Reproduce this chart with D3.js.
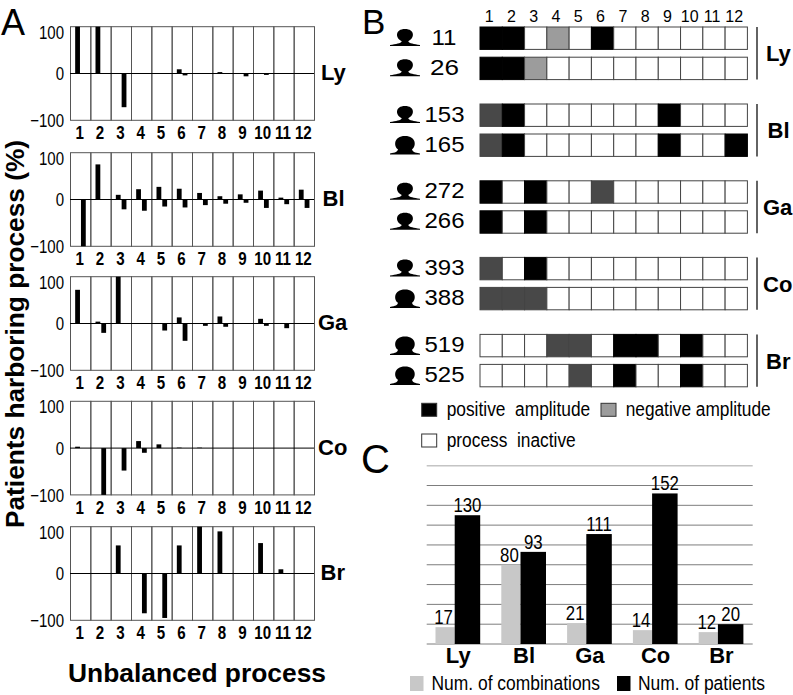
<!DOCTYPE html>
<html><head><meta charset="utf-8">
<script src="https://cdn.jsdelivr.net/npm/d3@7"></script>
<style>
html,body{margin:0;padding:0;background:#fff}
svg{display:block}
text{font-family:"Liberation Sans",Arial,sans-serif;fill:#000}
</style></head><body><div id="c"></div>
<script>
const processes=[1,2,3,4,5,6,7,8,9,10,11,12];
const cancers=["Ly","Bl","Ga","Co","Br"];
const posLy=[100,100,0,0,1,9,0,3,0,1,0,0];
const negLy=[0,0,-72,0,-1,-4,0,-1,-6,-3,0,0];
const posBl=[0,75,10,22,27,23,14,7,11,19,4,21];
const negBl=[-100,0,-21,-24,-15,-17,-12,-9,-7,-18,-10,-18];
const posGa=[72,4,100,0,0,13,0,15,0,10,0,0];
const negGa=[0,-20,0,0,-15,-37,-5,-7,0,-5,-10,0];
const posCo=[3,0,0,15,8,1,1,0,0,0,0,0];
const negCo=[0,-100,-48,-10,0,0,0,0,0,0,0,0];
const posBr=[0,0,60,0,0,60,100,90,0,65,9,0];
const negBr=[0,0,0,-85,-95,0,0,0,0,0,0,0];
const yTicks=[100,0,-100];
const patients=["11","26","153","165","272","266","393","388","519","525"];
// k=black (positive), m=mid grey (negative), d=dark grey, w=inactive
const stateRows=["kkwmwkwwwwww","kkmwwwwwwwww","dkwwwwwwkwww","dkwwwwwwkwwk","kwkwwdwwwwww","kwkwwwwwwwww","dwkwwwwwwwww","dddwwwwwwwww","wwwddwkkwkww","wwwwdwkwwkww"];
const stateColors={k:"#000",m:"#9c9c9c",d:"#484848",w:"#fff"};
const comboCounts=[17,80,21,14,12];
const patientCounts=[130,93,111,152,20];
const gridTicks=[0,20,40,60,80,100,120,140,160,180];

const W=793,H=695;
const svg=d3.select("#c").append("svg").attr("width",W).attr("height",H);

function squeeze(sel,f){
  sel.each(function(){
    const l=this.getComputedTextLength();
    d3.select(this).attr("textLength",l*f).attr("lengthAdjust","spacingAndGlyphs");
  });
  return sel;
}
function fit(sel,len){return sel.attr("textLength",len).attr("lengthAdjust","spacingAndGlyphs");}

// Panel letters
[["A",1,35,36],["B",362,34,35],["C",361,473,40]].forEach(d=>{
  svg.append("text").attr("x",d[1]).attr("y",d[2]).attr("font-size",d[3]).text(d[0]);
});

// Panel A
const panelTops=[26.7,152.7,276.7,401.3,526.7];
const panelH=93.6;
const posData=[posLy,posBl,posGa,posCo,posBr], negData=[negLy,negBl,negGa,negCo,negBr];
const xA=d3.scaleBand().domain(processes).range([70,314]);
const barW=4.8;
cancers.forEach((c,i)=>{
  const top=panelTops[i];
  const y=d3.scaleLinear().domain([-100,100]).range([top+panelH,top]);
  const g=svg.append("g");
  g.selectAll("rect.cell").data(processes).join("rect")
    .attr("x",d=>xA(d)+.5).attr("y",top).attr("width",xA.bandwidth()).attr("height",panelH)
    .attr("fill","none").attr("stroke","#555").attr("stroke-width",1);
  g.selectAll("rect.p").data(posData[i]).join("rect")
    .attr("x",(d,j)=>xA(processes[j])+xA.bandwidth()/2-barW-.2).attr("y",d=>y(d))
    .attr("width",barW).attr("height",d=>y(0)-y(d)).attr("fill","#000");
  g.selectAll("rect.n").data(negData[i]).join("rect")
    .attr("x",(d,j)=>xA(processes[j])+xA.bandwidth()/2+.8).attr("y",y(0))
    .attr("width",barW).attr("height",d=>y(d)-y(0)).attr("fill","#000");
  g.append("line").attr("x1",70).attr("x2",314).attr("y1",y(0)).attr("y2",y(0)).attr("stroke","#000").attr("stroke-width",1);
  const ay=d3.axisLeft(y).tickValues(yTicks).tickSize(0).tickPadding(6);
  const ga=g.append("g").attr("transform","translate(70,0)").call(ay);
  ga.select(".domain").remove();
  ga.selectAll(".tick text").attr("font-size",19).attr("fill","#111").attr("dy",d=>d===100?"0.6em":"0.34em");
  squeeze(ga.selectAll(".tick text"),0.79);
  const ax=d3.axisBottom(xA).tickSize(0).tickPadding(6);
  const gb=g.append("g").attr("transform",`translate(-0.5,${top+panelH})`).call(ax);
  gb.select(".domain").remove();
  gb.selectAll("text").attr("font-size",18).attr("font-weight","bold");
  squeeze(gb.selectAll("text"),0.84);
  g.append("text").attr("x",[321,322.5,318,318,320.5][i]).attr("y",y(0)+6.5).attr("font-size",22).attr("font-weight","bold").text(c);
});
fit(svg.append("text").attr("transform","translate(23.5,334) rotate(-90)").attr("text-anchor","middle")
  .attr("font-size",26).attr("font-weight","bold").text("Patients harboring process (%)"),388);
fit(svg.append("text").attr("x",197).attr("y",682).attr("text-anchor","middle")
  .attr("font-size",26.3).attr("font-weight","bold").text("Unbalanced process"),258);

// Panel B
const rowTops=[27,57.2,104,134,180.8,210.8,257.4,287.4,334.4,364.4];
const rowH=22.4;
const xB=d3.scaleBand().domain(processes).range([480,747.4]);
const axB=d3.axisTop(xB).tickSize(0).tickPadding(0);
const gT=svg.append("g").attr("transform","translate(-2,22)").call(axB);
gT.select(".domain").remove();
gT.selectAll("text").attr("font-size",16).attr("fill","#111");
function person(g,x,y,wide){
  const h=wide?18.5:17, hw=wide?11.5:10, sw=15, nw=wide?7:3.2;
  const n=h*0.72;
  g.append("path").attr("transform",`translate(${x},${y})`).attr("fill","#000")
   .attr("d",`M${-sw},${h} L${-sw},${h-1} C${-9},${h-2} ${-nw-1},${h-2.5} ${-nw},${n} C${-hw},${n-3} ${-hw},0 0,0 C${hw},0 ${hw},${n-3} ${nw},${n} C${nw+1},${h-2.5} 9,${h-2} ${sw},${h-1} L${sw},${h} Z`);
}
const femaleRows=new Set(["165","388","519","525"]);
const numX={"11":431.5,"26":430};
const numLen={"11":25,"26":29};
patients.forEach((p,i)=>{
  const top=rowTops[i];
  const g=svg.append("g");
  g.selectAll("rect").data(stateRows[i].split("")).join("rect")
    .attr("x",(d,j)=>xB(processes[j])).attr("y",top).attr("width",xB.bandwidth()).attr("height",rowH)
    .attr("fill",d=>stateColors[d]).attr("stroke",d=>d==="k"?"#000":"#444").attr("stroke-width",1);
  person(g,405,top+2,femaleRows.has(p));
  fit(g.append("text").attr("x",numX[p]||424.5).attr("y",top+17.5).attr("font-size",22).attr("fill","#111").text(p),numLen[p]||40);
});
[[0,1,"Ly",766],[2,3,"Bl",767.5],[4,5,"Ga",763],[6,7,"Co",763],[8,9,"Br",766]].forEach(d=>{
  const t=rowTops[d[0]], b=rowTops[d[1]]+rowH;
  svg.append("line").attr("x1",757).attr("x2",757).attr("y1",t).attr("y2",b).attr("stroke","#222").attr("stroke-width",1.4);
  svg.append("text").attr("x",d[3]).attr("y",(t+b)/2+8).attr("font-size",22).attr("font-weight","bold").text(d[2]);
});
// Legend B
const legB=[[421.7,403.3,"#000","positive  amplitude",446.7,416,143.5],[601,403.3,"#9c9c9c","negative amplitude",625.7,416,145],[421.7,434,"#fff","process  inactive",446.7,446.5,129]];
legB.forEach(d=>{
  svg.append("rect").attr("x",d[0]).attr("y",d[1]).attr("width",15).attr("height",13).attr("fill",d[2]).attr("stroke","#333");
  fit(svg.append("text").attr("x",d[4]).attr("y",d[5]).attr("font-size",19.5).style("white-space","pre").text(d[3]),d[6]);
});

// Panel C
const yC=d3.scaleLinear().domain([0,180]).range([644,465.7]);
const xC=d3.scaleBand().domain(cancers).range([421.8,750.8]);
const gridG=svg.append("g");
gridG.selectAll("line").data(gridTicks).join("line")
  .attr("x1",426.7).attr("x2",752.7).attr("y1",d=>yC(d)).attr("y2",d=>yC(d))
  .attr("stroke",d=>d===180?"#c4c4c4":"#7d7d7d").attr("stroke-width",d=>d===180?1.5:1);
const greyW=19.2, blackW=25.5;
svg.append("g").selectAll("rect").data(comboCounts).join("rect")
  .attr("x",(d,i)=>xC(cancers[i])+xC.bandwidth()/2-greyW).attr("y",d=>yC(d))
  .attr("width",greyW).attr("height",d=>yC(0)-yC(d)).attr("fill","#c8c8c8");
svg.append("g").selectAll("rect").data(patientCounts).join("rect")
  .attr("x",(d,i)=>xC(cancers[i])+xC.bandwidth()/2).attr("y",d=>yC(d))
  .attr("width",blackW).attr("height",d=>yC(0)-yC(d)).attr("fill","#000");
squeeze(svg.append("g").selectAll("text").data(comboCounts).join("text")
  .attr("x",(d,i)=>xC(cancers[i])+xC.bandwidth()/2-greyW/2-1.5).attr("y",d=>yC(d)-3)
  .attr("text-anchor","middle").attr("font-size",20).attr("fill","#111").text(d=>d),0.84);
squeeze(svg.append("g").selectAll("text").data(patientCounts).join("text")
  .attr("x",(d,i)=>xC(cancers[i])+xC.bandwidth()/2+blackW/2).attr("y",d=>yC(d)-3)
  .attr("text-anchor","middle").attr("font-size",20).attr("fill","#111").text(d=>d),0.84);
const axC=d3.axisBottom(xC).tickSize(0).tickPadding(3);
const gC=svg.append("g").attr("transform","translate(3.5,644)").call(axC);
gC.select(".domain").remove();
gC.selectAll("text").attr("font-size",22).attr("font-weight","bold");
svg.append("rect").attr("x",410).attr("y",676).attr("width",13.5).attr("height",15).attr("fill","#c8c8c8");
fit(svg.append("text").attr("x",431.5).attr("y",690).attr("font-size",20.5).attr("fill","#111").text("Num. of combinations"),168.5);
svg.append("rect").attr("x",617).attr("y",676).attr("width",13.5).attr("height",15).attr("fill","#000");
fit(svg.append("text").attr("x",638).attr("y",690).attr("font-size",20.5).attr("fill","#111").text("Num. of patients"),127);
</script></body></html>
